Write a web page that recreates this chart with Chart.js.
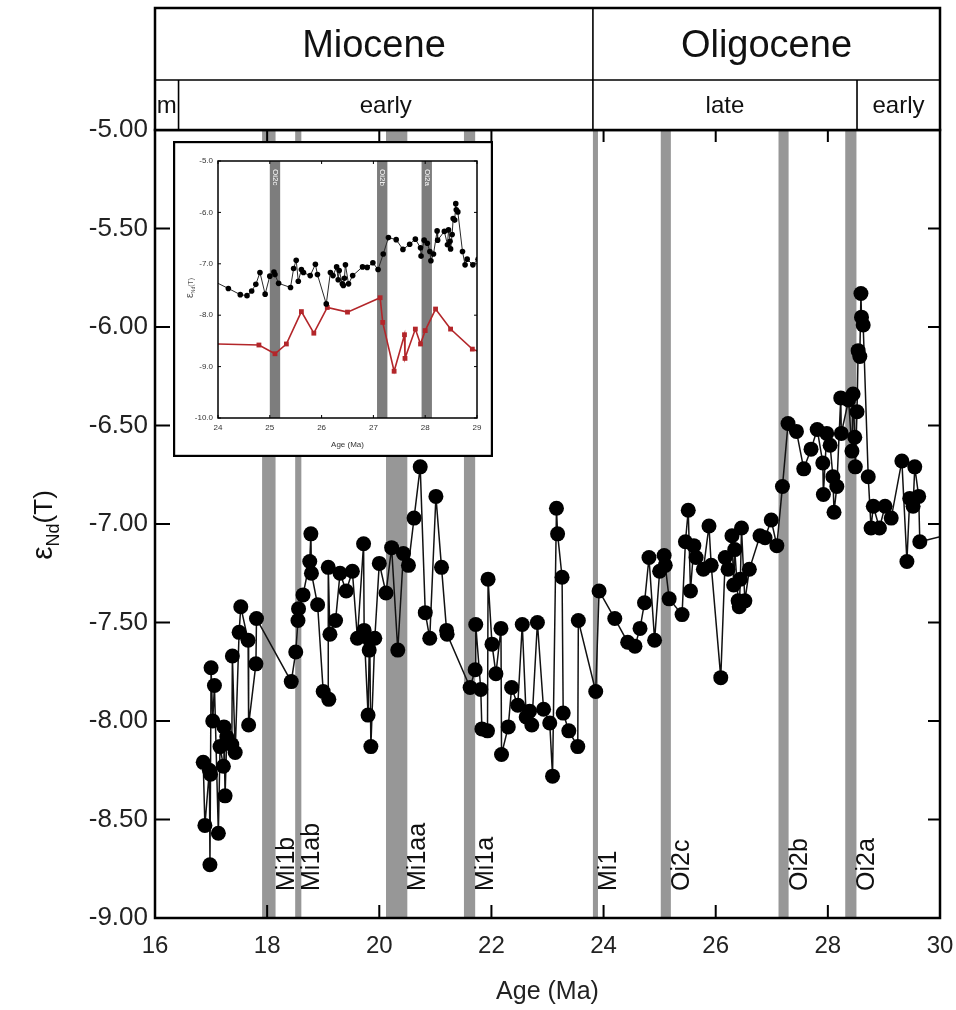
<!DOCTYPE html>
<html><head><meta charset="utf-8">
<script src="https://cdn.jsdelivr.net/npm/chart.js@4.4.1/dist/chart.umd.min.js"></script>
<style>
html,body{margin:0;padding:0;background:#fff;}
#wrap{position:relative;width:956px;height:1010px;overflow:hidden;}
#main{position:absolute;left:0;top:0;}
#inset{position:absolute;left:173px;top:141px;}
</style></head><body>
<div id="wrap"><canvas id="main" width="956" height="1010"></canvas><canvas id="inset" width="320" height="316"></canvas></div>
<script>
// ---------- data ----------
const ages = [16.86,16.89,16.97,16.98,16.99,17.00,17.03,17.06,17.13,17.16,17.22,17.23,17.25,17.28,17.37,17.38,17.43,17.50,17.53,17.66,17.67,17.80,17.81,
 18.43,18.51,18.55,18.56,18.64,18.76,18.78,18.79,18.90,19.00,19.10,19.09,19.12,19.22,19.30,19.41,19.52,19.61,19.72,19.73,19.80,19.82,19.83,19.85,19.92,
 20.00,20.12,20.22,20.33,20.43,20.52,20.62,20.73,20.82,20.90,21.01,21.11,21.20,21.21,21.62,21.71,21.72,21.81,21.83,21.93,21.94,22.01,22.08,22.17,22.18,
 22.30,22.36,22.47,22.55,22.62,22.68,22.72,22.82,22.93,23.04,23.09,23.16,23.18,23.26,23.28,23.38,23.54,23.55,23.86,23.92,
 24.20,24.43,24.56,24.65,24.73,24.81,24.91,25.00,25.08,25.10,25.17,25.40,25.46,25.51,25.55,25.61,25.65,25.78,25.88,25.92,
 26.09,26.17,26.22,26.29,26.32,26.34,26.40,26.42,26.44,26.46,26.52,26.60,26.79,26.88,26.99,27.09,27.19,27.29,27.44,27.57,27.70,27.81,27.91,27.92,27.98,
 28.04,28.09,28.11,28.16,28.23,28.24,28.37,28.43,28.45,28.48,28.49,28.52,28.54,28.57,28.59,28.60,28.63,28.72,28.77,28.81,28.92,
 29.02,29.13,29.32,29.41,29.46,29.52,29.55,29.62,29.64,30.50];
const eNd = [-8.21,-8.53,-8.25,-8.73,-8.27,-7.73,-8.00,-7.82,-8.57,-8.13,-8.23,-8.03,-8.38,-8.08,-8.12,-7.67,-8.16,-7.55,-7.42,-7.59,-8.02,-7.71,-7.48,
 -7.80,-7.65,-7.49,-7.43,-7.36,-7.19,-7.05,-7.25,-7.41,-7.85,-7.89,-7.22,-7.56,-7.49,-7.25,-7.34,-7.24,-7.58,-7.10,-7.54,-7.97,-7.64,-7.59,-8.13,-7.58,
 -7.20,-7.35,-7.12,-7.64,-7.15,-7.21,-6.97,-6.71,-7.45,-7.58,-6.86,-7.22,-7.54,-7.56,-7.83,-7.74,-7.51,-7.84,-8.04,-8.05,-7.28,-7.61,-7.76,-7.53,-8.17,
 -8.03,-7.83,-7.92,-7.51,-7.98,-7.95,-8.02,-7.50,-7.94,-8.01,-8.28,-6.92,-7.05,-7.27,-7.96,-8.05,-8.13,-7.49,-7.85,-7.34,
 -7.48,-7.60,-7.62,-7.53,-7.40,-7.17,-7.59,-7.24,-7.16,-7.21,-7.38,-7.46,-7.09,-6.93,-7.34,-7.11,-7.17,-7.23,-7.01,-7.21,
 -7.78,-7.17,-7.23,-7.06,-7.31,-7.13,-7.39,-7.42,-7.28,-7.02,-7.39,-7.23,-7.06,-7.07,-6.98,-7.11,-6.81,-6.49,-6.53,-6.72,-6.62,-6.52,-6.69,-6.85,-6.54,
 -6.60,-6.76,-6.94,-6.81,-6.36,-6.54,-6.37,-6.63,-6.34,-6.56,-6.71,-6.43,-6.12,-6.15,-5.83,-5.95,-5.99,-6.76,-7.02,-6.91,-7.02,
 -6.91,-6.97,-6.68,-7.19,-6.87,-6.91,-6.71,-6.86,-7.09,-7.03];

const eventNames = ['Mi1b','Mi1ab','Mi1aa','Mi1a','Mi1','Oi2c','Oi2b','Oi2a'];
const eventStart = [17.91,18.50,20.12,21.51,23.81,25.02,27.12,28.31];
const eventEnd   = [18.15,18.61,20.50,21.71,23.90,25.20,27.30,28.51];

const xTicks = [16,18,20,22,24,26,28,30];
const yTicks = [-5.0,-5.5,-6.0,-6.5,-7.0,-7.5,-8.0,-8.5,-9.0];

const epochNames = ['Miocene','Oligocene'];
const epochBounds = [16,23.81,30];
const subNames = ['m','early','late','early'];
const subBounds = [16,16.42,23.81,28.52,30];

// inset
const insetRange = [24,29];
const insetXTicks = [24,25,26,27,28,29];
const insetYTicks = [-5,-6,-7,-8,-9,-10];
const redAges = [23.5,24.79,25.10,25.32,25.61,25.85,26.11,26.50,27.13,27.18,27.40,27.60,27.61,27.81,27.91,28.00,28.20,28.49,28.91,29.4];
const redENd  = [-8.55,-8.58,-8.75,-8.56,-7.93,-8.35,-7.85,-7.94,-7.66,-8.14,-9.09,-8.38,-8.84,-8.27,-8.56,-8.30,-7.88,-8.27,-8.66,-8.85];
const insetEventNames = ['Oi2c','Oi2b','Oi2a'];
const insetEventStart = [25.00,27.07,27.93];
const insetEventEnd   = [25.20,27.27,28.13];

// ---------- drawing ----------
const FAM = '"Liberation Sans", Arial, sans-serif';

const mainDeco = {
  id:'mainDeco',
  beforeDatasetsDraw(chart){
    const {ctx, chartArea:a, scales:{x}} = chart;
    ctx.save();
    ctx.fillStyle = '#979797';
    eventStart.forEach((s,i)=>{
      const x0 = x.getPixelForValue(s), x1 = x.getPixelForValue(eventEnd[i]);
      ctx.fillRect(x0, a.top, x1-x0, a.bottom-a.top);
    });
    ctx.fillStyle = '#111';
    ctx.font = '25px ' + FAM;
    ctx.textAlign = 'left'; ctx.textBaseline = 'alphabetic';
    eventNames.forEach((n,i)=>{
      const xr = x.getPixelForValue(eventEnd[i]);
      ctx.save(); ctx.translate(xr + 18, a.bottom - 27); ctx.rotate(-Math.PI/2); ctx.fillText(n,0,0); ctx.restore();
    });
    ctx.restore();
  },
  afterDraw(chart){
    const {ctx, chartArea:a, scales:{x,y}} = chart;
    ctx.save();
    ctx.strokeStyle = '#000';
    // ticks (inward)
    ctx.lineWidth = 2;
    ctx.beginPath();
    yTicks.forEach(v=>{
      const py = y.getPixelForValue(v);
      ctx.moveTo(a.left, py); ctx.lineTo(a.left+15, py);
      ctx.moveTo(a.right, py); ctx.lineTo(a.right-12, py);
    });
    xTicks.forEach(v=>{
      const px = x.getPixelForValue(v);
      ctx.moveTo(px, a.bottom); ctx.lineTo(px, a.bottom-13);
      ctx.moveTo(px, a.top); ctx.lineTo(px, a.top+12);
    });
    ctx.stroke();
    // frame
    ctx.lineWidth = 2.5;
    ctx.strokeRect(a.left, a.top, a.right-a.left, a.bottom-a.top);
    // header
    const top = 8, mid = 80, bot = a.top;
    ctx.fillStyle = '#fff';
    ctx.fillRect(a.left, top, a.right-a.left, bot-top);
    ctx.strokeRect(a.left, top, a.right-a.left, bot-top);
    ctx.lineWidth = 1.6;
    ctx.beginPath();
    ctx.moveTo(a.left, mid); ctx.lineTo(a.right, mid);
    for (let i=1;i<epochBounds.length-1;i++){ const px=x.getPixelForValue(epochBounds[i]); ctx.moveTo(px,top); ctx.lineTo(px,bot); }
    for (let i=1;i<subBounds.length-1;i++){ const px=x.getPixelForValue(subBounds[i]); ctx.moveTo(px,mid); ctx.lineTo(px,bot); }
    ctx.stroke();
    ctx.fillStyle = '#111';
    ctx.textAlign = 'center'; ctx.textBaseline = 'middle';
    ctx.font = '38px ' + FAM;
    epochNames.forEach((n,i)=>{
      const cx = (x.getPixelForValue(epochBounds[i]) + x.getPixelForValue(epochBounds[i+1]))/2;
      ctx.fillText(n, cx, (top+mid)/2 + 3);
    });
    ctx.font = '24px ' + FAM;
    subNames.forEach((n,i)=>{
      const cx = (x.getPixelForValue(subBounds[i]) + x.getPixelForValue(subBounds[i+1]))/2;
      ctx.fillText(n, cx, (mid+bot)/2 + 1);
    });
    // y title: eps_Nd(T)
    ctx.save();
    ctx.translate(52, 525); ctx.rotate(-Math.PI/2);
    ctx.textAlign = 'left'; ctx.textBaseline = 'alphabetic';
    const f1 = '30px ' + FAM, f2 = '18px ' + FAM, f3 = '26px ' + FAM;
    ctx.font = f1; const w1 = ctx.measureText('ε').width;
    ctx.font = f2; const w2 = ctx.measureText('Nd').width;
    ctx.font = f3; const w3 = ctx.measureText('(T)').width;
    let u = -(w1+w2+w3)/2;
    ctx.font = f1; ctx.fillText('ε', u, 0); u += w1;
    ctx.font = f2; ctx.fillText('Nd', u, 7); u += w2;
    ctx.font = f3; ctx.fillText('(T)', u, 0);
    ctx.restore();
    ctx.restore();
  }
};

new Chart(document.getElementById('main'), {
  type: 'line',
  data: { datasets: [{
    data: ages.map((a,i)=>({x:a, y:eNd[i]})),
    borderColor: '#111', borderWidth: 1.5, tension: 0,
    pointRadius: 7.5, pointBackgroundColor: '#000', pointBorderWidth: 0, pointHoverRadius: 7.5
  }]},
  options: {
    responsive: false, animation: false, events: [],
    layout: { padding: { left: 0, right: 16, top: 130, bottom: 0 } },
    plugins: { legend: {display:false}, tooltip: {enabled:false} },
    scales: {
      x: { type:'linear', min:16, max:30,
        afterBuildTicks: s => { s.ticks = xTicks.map(v=>({value:v})); },
        ticks: { font:{size:24, family:FAM}, color:'#222', padding:14, maxRotation:0 },
        grid: { display:false, drawTicks:false }, border: { display:false },
        title: { display:true, text:'Age (Ma)', font:{size:25, family:FAM}, color:'#222', padding:{top:0,bottom:3} },
        afterFit: s => { s.height = 92; s.paddingLeft = 0; s.paddingRight = 0; } },
      y: { type:'linear', min:-9, max:-5,
        afterBuildTicks: s => { s.ticks = yTicks.map(v=>({value:v})); },
        ticks: { font:{size:26, family:FAM}, color:'#222', padding:7, callback: v => Number(v).toFixed(2) },
        grid: { display:false, drawTicks:false }, border: { display:false },
        afterFit: s => { s.width = 155; s.paddingTop = 0; s.paddingBottom = 0; } }
    }
  },
  plugins: [mainDeco]
});

// ---------- inset ----------
const insetDeco = {
  id:'insetDeco',
  beforeDraw(chart){
    const {ctx, width, height} = chart;
    ctx.save(); ctx.fillStyle = '#fff'; ctx.fillRect(0,0,width,height); ctx.restore();
  },
  beforeDatasetsDraw(chart){
    const {ctx, chartArea:a, scales:{x}} = chart;
    ctx.save();
    ctx.fillStyle = '#7d7d7d';
    insetEventStart.forEach((s,i)=>{
      const x0 = x.getPixelForValue(s), x1 = x.getPixelForValue(insetEventEnd[i]);
      ctx.fillRect(x0, a.top, x1-x0, a.bottom-a.top);
    });
    ctx.fillStyle = '#fff';
    ctx.font = '8px ' + FAM; ctx.textAlign = 'left'; ctx.textBaseline = 'middle';
    insetEventNames.forEach((n,i)=>{
      const cx = (x.getPixelForValue(insetEventStart[i]) + x.getPixelForValue(insetEventEnd[i]))/2;
      ctx.save(); ctx.translate(cx, a.top + 8); ctx.rotate(Math.PI/2); ctx.fillText(n,0,0); ctx.restore();
    });
    ctx.restore();
  },
  afterDraw(chart){
    const {ctx, chartArea:a, scales:{x,y}, width, height} = chart;
    ctx.save();
    ctx.strokeStyle = '#000';
    ctx.lineWidth = 1;
    ctx.beginPath();
    insetXTicks.forEach(v=>{ const px=x.getPixelForValue(v); ctx.moveTo(px,a.bottom); ctx.lineTo(px,a.bottom-3); ctx.moveTo(px,a.top); ctx.lineTo(px,a.top+3); });
    insetYTicks.forEach(v=>{ const py=y.getPixelForValue(v); ctx.moveTo(a.left,py); ctx.lineTo(a.left+3,py); ctx.moveTo(a.right,py); ctx.lineTo(a.right-3,py); });
    ctx.stroke();
    ctx.lineWidth = 1.5;
    ctx.strokeRect(a.left, a.top, a.right-a.left, a.bottom-a.top);
    ctx.lineWidth = 2.2;
    ctx.strokeRect(1.1, 1.1, width-2.2, height-2.2);
    // y title
    ctx.save();
    ctx.translate(20, 147); ctx.rotate(-Math.PI/2);
    ctx.fillStyle = '#555'; ctx.textBaseline = 'alphabetic'; ctx.textAlign = 'left';
    ctx.font = '11px ' + FAM; const w1 = ctx.measureText('ε').width;
    ctx.font = '5px ' + FAM; const w2 = ctx.measureText('Nd').width;
    ctx.font = '7px ' + FAM; const w3 = ctx.measureText('(T)').width;
    let u = -(w1+w2+w3)/2;
    ctx.font = '11px ' + FAM; ctx.fillText('ε', u, 0); u += w1;
    ctx.font = '5px ' + FAM; ctx.fillText('Nd', u, 2); u += w2;
    ctx.font = '7px ' + FAM; ctx.fillText('(T)', u, 0);
    ctx.restore();
    ctx.restore();
  }
};

const insetBlack = ages.map((a,i)=>({x:a, y:eNd[i]})).filter(p => p.x >= 23.8 && p.x <= 29.2);
const insetRed = redAges.map((a,i)=>({x:a, y:redENd[i]}));
const insetClip = {left:0, right:0, top:6, bottom:6};

new Chart(document.getElementById('inset'), {
  type: 'line',
  data: { datasets: [
    { data: insetBlack, borderColor:'#2a2a2a', borderWidth:1, tension:0, clip: insetClip,
      pointRadius:2.8, pointBackgroundColor:'#000', pointBorderWidth:0, pointHoverRadius:2.8 },
    { data: insetRed, borderColor:'#b3262a', borderWidth:1.6, tension:0, clip: insetClip,
      pointStyle:'rect', pointRadius:3.4, pointBackgroundColor:'#b3262a', pointBorderWidth:0, pointHoverRadius:3.4 }
  ]},
  options: {
    responsive:false, animation:false, events:[],
    layout: { padding: { left:0, right:16, top:20, bottom:0 } },
    plugins: { legend:{display:false}, tooltip:{enabled:false} },
    scales: {
      x: { type:'linear', min:insetRange[0], max:insetRange[1],
        afterBuildTicks: s => { s.ticks = insetXTicks.map(v=>({value:v})); },
        ticks: { font:{size:8, family:FAM}, color:'#333', padding:5, maxRotation:0 },
        grid:{display:false, drawTicks:false}, border:{display:false},
        title: { display:true, text:'Age (Ma)', font:{size:8, family:FAM}, color:'#333', padding:{top:0,bottom:7} },
        afterFit: s => { s.height = 39; s.paddingLeft = 0; s.paddingRight = 0; } },
      y: { type:'linear', min:-10, max:-5,
        afterBuildTicks: s => { s.ticks = insetYTicks.map(v=>({value:v})); },
        ticks: { font:{size:8, family:FAM}, color:'#333', padding:5, callback: v => Number(v).toFixed(1) },
        grid:{display:false, drawTicks:false}, border:{display:false},
        afterFit: s => { s.width = 45; s.paddingTop = 0; s.paddingBottom = 0; } }
    }
  },
  plugins: [insetDeco]
});
</script>
</body></html>
